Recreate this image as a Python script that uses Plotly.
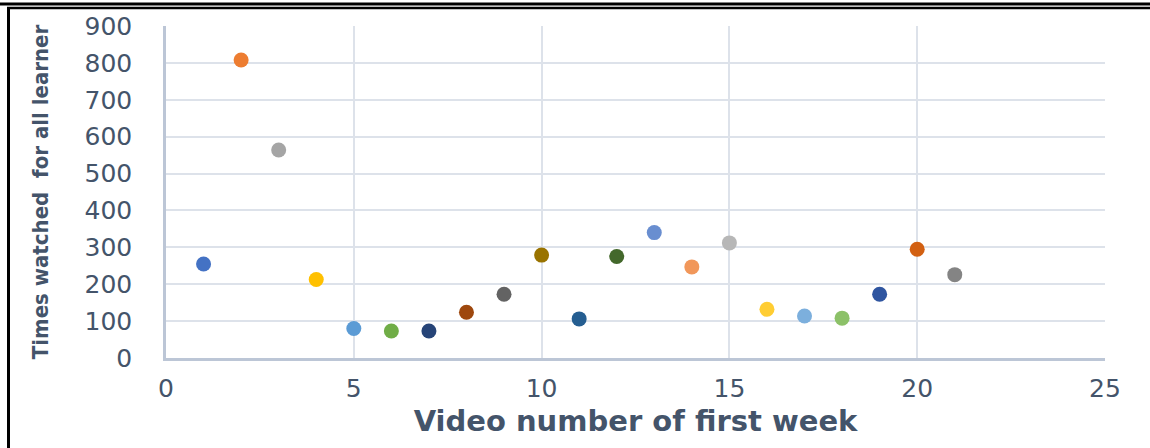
import plotly.graph_objects as go

videos = list(range(1, 22))
times_watched = [255, 808, 564, 213, 80, 73, 73, 124, 173, 279, 106, 275, 340, 247, 312, 132, 114, 108, 173, 295, 226]
point_colors = ["#4472C4", "#ED7D31", "#A5A5A5", "#FFC000", "#5B9BD5", "#70AD47",
                "#264478", "#9E480E", "#636363", "#997300", "#255E91", "#43682B",
                "#698ED0", "#F1975A", "#B7B7B7", "#FFCD33", "#7CAFDD", "#8CC168",
                "#2F55A0", "#D26012", "#848484"]
x_ticks = [0, 5, 10, 15, 20, 25]
y_ticks = [0, 100, 200, 300, 400, 500, 600, 700, 800, 900]

W, H = 1150, 448
L, R, T, B = 166, 1105, 26, 358

def px(xp):
    return (xp - L) / (R - L)

def py(yp):
    return (B - yp) / (B - T)

fig = go.Figure(go.Scatter(
    x=videos, y=times_watched, mode="markers",
    marker=dict(color=point_colors, size=15, symbol="circle", line=dict(width=0)),
    showlegend=False, cliponaxis=False,
))

tick_font = dict(family="DejaVu Sans", size=25, color="#44546A")
fig.update_xaxes(
    range=[0, 25], tickvals=x_ticks, showgrid=True, gridcolor="#DDE2EA", gridwidth=2,
    zeroline=False, showline=True, linecolor="#BCC6D6", linewidth=2.5,
    tickfont=tick_font, ticks="", ticklabelstandoff=6,
    title=dict(text="<b>Video number of first week</b>",
               font=dict(family="DejaVu Sans", size=29, color="#44546A"), standoff=9),
)
fig.update_yaxes(
    range=[0, 900], tickvals=y_ticks, showgrid=True, gridcolor="#DDE2EA", gridwidth=2,
    zeroline=False, showline=True, linecolor="#BCC6D6", linewidth=2.5,
    tickfont=tick_font, ticks="", ticklabelstandoff=26,
    title=dict(text="<b>Times watched  for all learner</b>",
               font=dict(family="DejaVu Sans Condensed, sans-serif",
                         size=22, color="#44546A"), standoff=30),
)

# black frame lines of the figure border
shapes = [
    dict(type="line", xref="paper", yref="paper", x0=px(0), x1=px(W), y0=py(4), y1=py(4),
         line=dict(color="black", width=3)),
    dict(type="line", xref="paper", yref="paper", x0=px(7), x1=px(W), y0=py(8), y1=py(8),
         line=dict(color="black", width=2.5)),
    dict(type="line", xref="paper", yref="paper", x0=px(8.5), x1=px(8.5), y0=py(7), y1=py(H),
         line=dict(color="black", width=3)),
]
fig.update_layout(
    width=W, height=H, margin=dict(l=L, r=W - R, t=T, b=H - B),
    paper_bgcolor="white", plot_bgcolor="white", shapes=shapes,
)
fig.write_html("out.html")
